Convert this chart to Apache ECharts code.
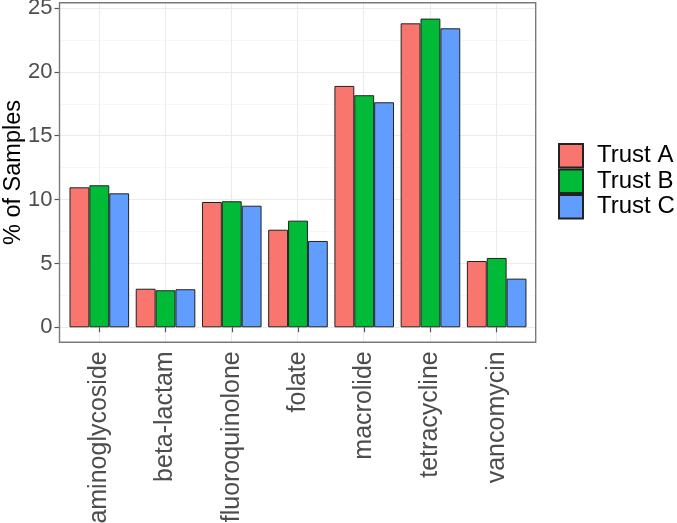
<!DOCTYPE html>
<html>
<head>
<meta charset="utf-8">
<script src="https://cdn.jsdelivr.net/npm/echarts@6/dist/echarts.min.js"></script>
<style>html,body{margin:0;padding:0;background:#fff}#c{width:677px;height:523px}</style>
</head>
<body>
<div id="c"></div>
<script>
const categories = ['aminoglycoside','beta-lactam','fluoroquinolone','folate','macrolide','tetracycline','vancomycin'];
const trustA = [10.96, 3.02, 9.81, 7.64, 18.90, 23.80, 5.19];
const trustB = [11.12, 2.90, 9.87, 8.35, 18.17, 24.17, 5.43];
const trustC = [10.49, 2.98, 9.52, 6.76, 17.62, 23.41, 3.81];
const seriesNames = ['Trust A', 'Trust B', 'Trust C'];
const yTicks = [0, 5, 10, 15, 20, 25];

const FONT = 'Liberation Sans, Arial, Helvetica, sans-serif';
const colors = ['#F8766D', '#00BA38', '#619CFF'];
const values = [trustA, trustB, trustC];

const panel = {left: 59.5, top: 2.7, width: 476.2, height: 339.6};
const dataTop = 8, dataBottom = 327.3;
const band = 66.23;
const gridCommon = {containLabel: false, outerBoundsMode: 'none'};

const chart = echarts.init(document.getElementById('c'), null, {renderer: 'canvas'});
chart.setOption({
  animation: false,
  backgroundColor: '#fff',
  textStyle: {fontFamily: FONT},
  grid: [
    Object.assign({left: 99.3 - band / 2, top: dataTop, width: band * categories.length, height: dataBottom - dataTop}, gridCommon),
    Object.assign({left: panel.left, top: panel.top, width: panel.width, height: panel.height, show: true, borderColor: '#7A7A7A', borderWidth: 1.4, z: 5}, gridCommon),
    Object.assign({left: panel.left, top: dataTop, width: panel.width, height: dataBottom - dataTop}, gridCommon)
  ],
  xAxis: [
    {type: 'category', gridIndex: 0, data: categories, offset: panel.top + panel.height - dataBottom,
     axisLine: {show: false},
     axisTick: {show: true, alignWithLabel: true, length: 5, lineStyle: {color: '#555', width: 1.2}},
     axisLabel: {rotate: 90, fontSize: 25, color: '#4D4D4D', margin: 9, fontFamily: FONT, hideOverlap: false},
     splitLine: {show: false}},
    {type: 'value', gridIndex: 1, min: 0.4, max: categories.length + 0.6, splitNumber: 7,
     axisLine: {show: false}, axisTick: {show: false}, axisLabel: {show: false},
     splitLine: {show: true, lineStyle: {color: '#EBEBEB', width: 1}}},
    {type: 'value', gridIndex: 2, min: 0, max: 1, show: false}
  ],
  yAxis: [
    {type: 'value', gridIndex: 0, min: yTicks[0], max: yTicks[yTicks.length - 1], show: false},
    {type: 'value', gridIndex: 1, min: 0, max: 1,
     name: '% of Samples', nameLocation: 'middle', nameRotate: 90, nameGap: 34,
     nameTextStyle: {fontSize: 23.5, color: '#000', fontFamily: FONT},
     axisLine: {show: false}, axisTick: {show: false}, axisLabel: {show: false}, splitLine: {show: false}},
    {type: 'value', gridIndex: 2, min: yTicks[0], max: yTicks[yTicks.length - 1], interval: yTicks[1] - yTicks[0],
     axisLine: {show: false},
     axisTick: {show: true, length: 5, lineStyle: {color: '#555', width: 1.2}},
     axisLabel: {fontSize: 22, color: '#4D4D4D', margin: 7, fontFamily: FONT},
     splitLine: {show: true, lineStyle: {color: '#EBEBEB', width: 1}},
     minorTick: {show: false, splitNumber: 2},
     minorSplitLine: {show: true, lineStyle: {color: '#F2F2F2', width: 0.6}}}
  ],
  legend: {
    orient: 'vertical', left: 558, top: 143, padding: 0,
    itemWidth: 24, itemHeight: 23.5, itemGap: 0,
    icon: 'rect',
    data: seriesNames,
    textStyle: {fontSize: 24, color: '#000', fontFamily: FONT, padding: [0, 0, 0, 9]}
  },
  series: seriesNames.map((name, i) => ({
    name: name,
    type: 'bar',
    xAxisIndex: 0, yAxisIndex: 0,
    data: values[i],
    barGap: '0%',
    barCategoryGap: '10%',
    itemStyle: {color: colors[i], borderColor: '#222', borderWidth: 1},
    z: 3
  }))
});
</script>
</body>
</html>
